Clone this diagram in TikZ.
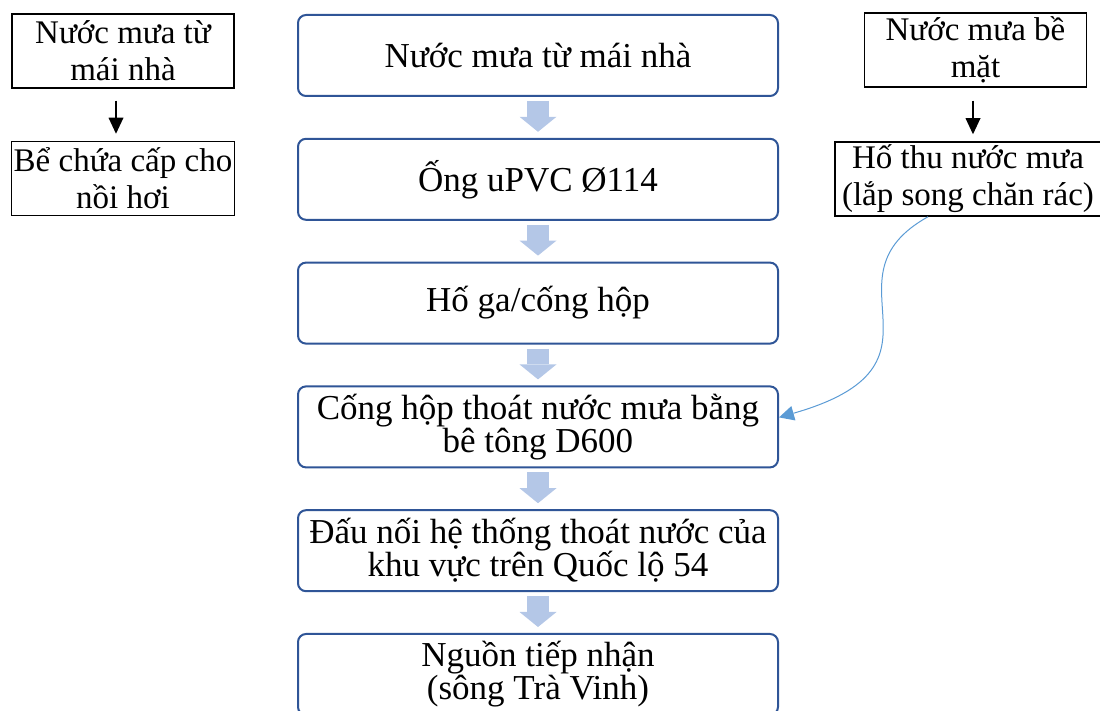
\documentclass[tikz,border=0pt]{standalone}
\usepackage{fontspec}
\setmainfont{Liberation Serif}
\usepackage{tikz}
\usetikzlibrary{arrows.meta, positioning}
\definecolor{boxblue}{HTML}{2F5597}
\definecolor{fatblue}{HTML}{B4C7E7}
\definecolor{curveblue}{HTML}{5B9BD5}
\tikzstyle{fat line} = [draw=fatblue, -{Triangle[length=7.5pt,width=18.5pt,line width=0pt]}, line width=11pt, shorten <=2pt, shorten >=3pt]
\tikzstyle{side line} = [draw, -{Triangle[length=8pt,width=7.5pt,line width=0pt]}, line width=0.6pt]
\tikzstyle{rain line} = [draw=curveblue, -{Triangle[length=7.5pt,width=7.5pt,line width=0pt]}, line width=0.5pt]

\begin{document}
\begin{tikzpicture}[x=0.5pt, y=-0.5pt]
  \tikzset{
    stage box/.style={
      rectangle,
      rounded corners=4pt,
      draw=boxblue,
      line width=1pt,
      fill=white,
      minimum width=240pt,
      minimum height=40.5pt,
      align=center,
      inner sep=1pt,
      font=\fontsize{17.5}{16.5}\selectfont
    },
    side box/.style={
      rectangle,
      draw=black,
      line width=0.75pt,
      minimum width=#1,
      minimum height=37pt,
      align=center,
      inner sep=1pt,
      font=\fontsize{16.5}{18.5}\selectfont
    },
    side box/.default=111pt,
    node distance=20.4pt
  }
  \useasboundingbox (0,0) rectangle (1100,711);

  % main column
  \node[stage box] (roof) at (538,55.5) {Nước mưa từ mái nhà};
  \node[stage box, below=of roof] (pipe) {Ống uPVC Ø114};
  \node[stage box, below=of pipe] (manhole) {Hố ga/cống hộp};
  \node[stage box, below=of manhole] (culvert) {Cống hộp thoát nước mưa bằng\\bê tông D600};
  \node[stage box, below=of culvert] (joint) {Đấu nối hệ thống thoát nước của\\khu vực trên Quốc lộ 54};
  \node[stage box, below=of joint] (river) {Nguồn tiếp nhận\\(sông Trà Vinh)};

  \draw[fat line] (roof) -- (pipe);
  \draw[fat line] (pipe) -- (manhole);
  \draw[fat line] (manhole) -- (culvert);
  \draw[fat line] (culvert) -- (joint);
  \draw[fat line] (joint) -- (river);

  % left side
  \node[side box] (leftroof) at (123,51) {Nước mưa từ\\mái nhà};
  \node[side box] (tank) at (123,178.5) {Bể chứa cấp cho\\nồi hơi};
  \draw[side line, shorten <=6pt, shorten >=3.5pt] ([xshift=-3.5pt]leftroof.south) -- ([xshift=-3.5pt]leftroof.south |- tank.north);

  % right side
  \node[side box] (surface) at (975.5,50) {Nước mưa bề\\mặt};
  \node[side box=133pt] (sump) at (968,179) {Hố thu nước mưa\\(lắp song chăn rác)};
  \draw[side line, shorten <=6.5pt, shorten >=3.5pt] ([xshift=-1.25pt]surface.south) -- ([xshift=-1.25pt]surface.south |- sump.north);
  \draw[rain line] ([xshift=-20pt]sump.south) .. controls +(-55.5pt,-31pt) and +(92.5pt,26.5pt) .. ([yshift=4.75pt]culvert.east);

\end{tikzpicture}
\end{document}
